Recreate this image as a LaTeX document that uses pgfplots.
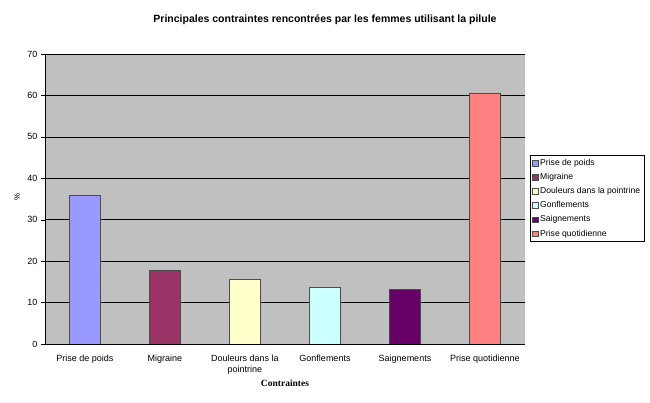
\documentclass[border=0pt]{standalone}
\usepackage{pgfplots}
\pgfplotsset{compat=1.18}
\usepackage{fontspec}
\setmainfont{Liberation Sans}
\newfontfamily\timesfont{Liberation Serif}
\definecolor{plotgray}{HTML}{C0C0C0}
\definecolor{cA}{HTML}{9999FF}
\definecolor{cB}{HTML}{993366}
\definecolor{cC}{HTML}{FFFFCC}
\definecolor{cD}{HTML}{CCFFFF}
\definecolor{cE}{HTML}{660066}
\definecolor{cF}{HTML}{FF8080}

\begin{document}
\begin{tikzpicture}
\useasboundingbox[fill=white] (0,0) rectangle (650pt,403pt);
\node[font=\bfseries\fontsize{10.5}{12}\selectfont] at (325pt,383pt) {Principales contraintes rencontrées par les femmes utilisant la pilule};
\begin{axis}[
    at={(45pt,59pt)}, anchor=south west,
    scale only axis,
    width=480pt, height=290pt,
    ybar, bar width=31pt,
    xmin=-0.5, xmax=5.5,
    ymin=0, ymax=70,
    ytick={0,10,...,70},
    xtick={0,...,5},
    xticklabels={Prise de poids,Migraine,{Douleurs dans la\\pointrine},Gonflements,Saignements,Prise quotidienne},
    xticklabel style={align=center, font=\fontsize{9}{11}\selectfont, yshift=-3pt},
    yticklabel style={font=\fontsize{9}{10}\selectfont},
    /pgf/number format/assume math mode=true,
    x tick style={draw=none},
    extra x ticks={0.5,1.5,...,4.5},
    extra x tick labels={},
    extra x tick style={tick style={draw=black}, major tick length=4pt, tick align=outside, grid=none},
    y tick style={black}, major tick length=4pt, tick align=outside,
    ymajorgrids, grid style={black, line width=0.5pt},
    axis background/.style={fill=plotgray},
    axis x line*=bottom, axis y line*=left,
    axis line style={black},
    xlabel={Contraintes},
    xlabel style={font=\timesfont\bfseries\fontsize{9.5}{10}\selectfont, at={(axis description cs:0.5,-0.134)}, anchor=center},
    ylabel={\%},
    ylabel style={font=\fontsize{8}{9}\selectfont, at={(axis description cs:-0.058,0.507)}, anchor=center},
    legend style={at={(axis description cs:1.0104,0.652)}, anchor=north west,
        draw=black, fill=white, font=\fontsize{8.6}{10}\selectfont,
        cells={anchor=west}, row sep=2.4pt, inner sep=2pt},
    legend image code/.code={\draw[#1] (0pt,-2.8pt) rectangle (5.6pt,2.8pt);},
]
\addplot[bar shift=0pt, fill=cA, draw=black!70] coordinates {(0,35.9)};
\addlegendentry{Prise de poids}
\addplot[bar shift=0pt, fill=cB, draw=black!70] coordinates {(1,17.8)};
\addlegendentry{Migraine}
\addplot[bar shift=0pt, fill=cC, draw=black!70] coordinates {(2,15.6)};
\addlegendentry{Douleurs dans la pointrine}
\addplot[bar shift=0pt, fill=cD, draw=black!70] coordinates {(3,13.8)};
\addlegendentry{Gonflements}
\addplot[bar shift=0pt, fill=cE, draw=black!70] coordinates {(4,13.3)};
\addlegendentry{Saignements}
\addplot[bar shift=0pt, fill=cF, draw=black!70] coordinates {(5,60.5)};
\addlegendentry{Prise quotidienne}
\end{axis}
\end{tikzpicture}
\end{document}
